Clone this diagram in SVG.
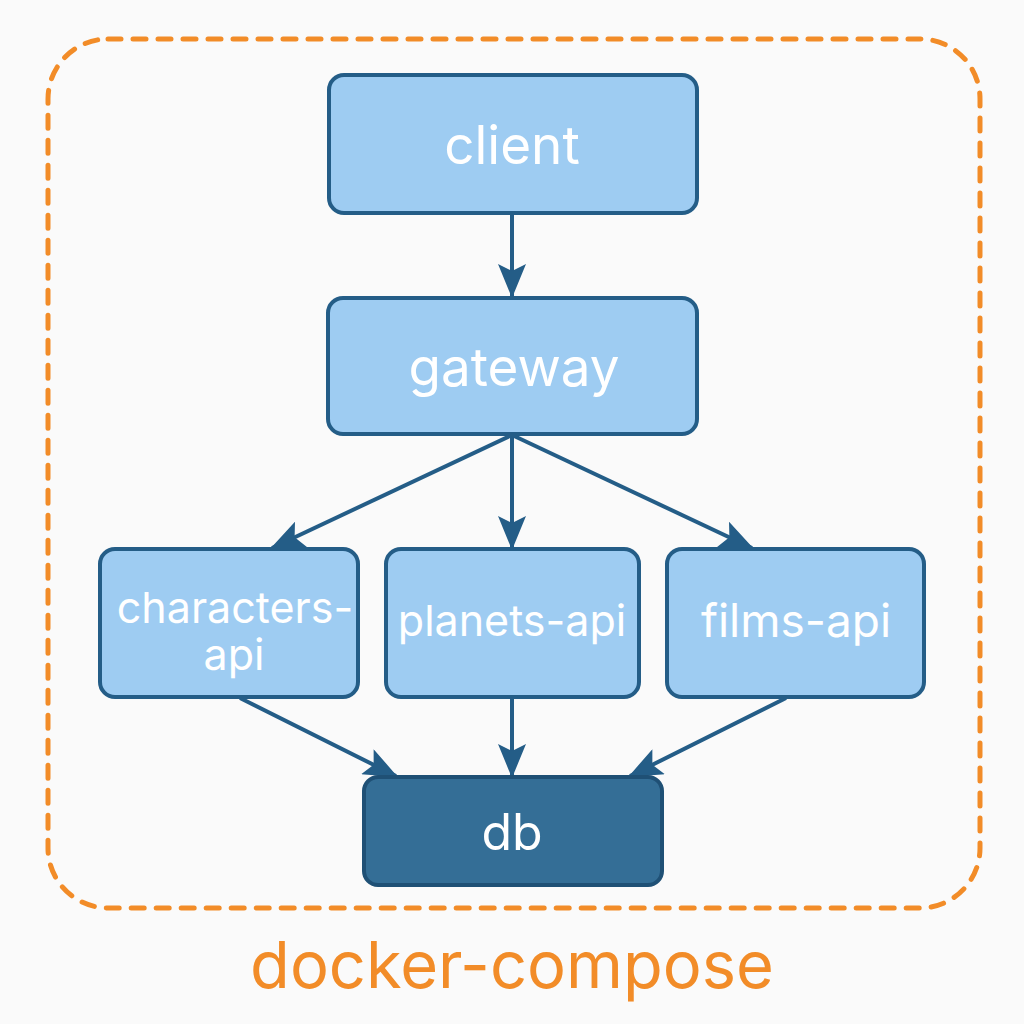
<svg xmlns="http://www.w3.org/2000/svg" width="1024" height="1024" viewBox="0 0 1024 1024">
<defs>
<style>
.node{fill:#9ECCF2;stroke:#245D87;stroke-width:4}
.dbn{fill:#346E96;stroke:#1F5075;stroke-width:4}
.lbl{font-family:Inter,"Liberation Sans",sans-serif;fill:#FFFFFF;text-anchor:middle}
.edge{stroke:#245D87;stroke-width:4;fill:none;marker-end:url(#ah)}
</style>
<marker id="ah" viewBox="0 0 34 28" refX="32" refY="14" markerWidth="34" markerHeight="28" markerUnits="userSpaceOnUse" orient="auto">
<path d="M0,0 L34,14 L0,28 L7,14 Z" fill="#245D87"/>
</marker>
</defs>
<rect width="1024" height="1024" fill="#FAFAFA"/>
<rect x="48" y="39" width="932" height="869" rx="60" fill="none" stroke="#F28C28" stroke-width="5" stroke-dasharray="13 12" stroke-linecap="round"/>
<g id="connectors">
<line class="edge" x1="512" y1="214" x2="512" y2="296"/>
<line class="edge" x1="512" y1="435" x2="272" y2="548"/>
<line class="edge" x1="512" y1="435" x2="512" y2="548"/>
<line class="edge" x1="512" y1="435" x2="752" y2="548"/>
<line class="edge" x1="240" y1="698" x2="396" y2="776"/>
<line class="edge" x1="512" y1="698" x2="512" y2="776"/>
<line class="edge" x1="786" y1="698" x2="630" y2="776"/>
</g>
<g id="client">
<rect class="node" x="329" y="75" width="368" height="138" rx="15"/>
<text class="lbl" x="512" y="164" font-size="53">client</text>
</g>
<g id="gateway">
<rect class="node" x="328" y="298" width="369" height="136" rx="15"/>
<text class="lbl" x="514" y="386" font-size="53">gateway</text>
</g>
<g id="characters-api">
<rect class="node" x="100" y="549" width="258" height="148" rx="15"/>
<text class="lbl" x="235" y="623" font-size="43">characters-</text>
<text class="lbl" x="234" y="670" font-size="43">api</text>
</g>
<g id="planets-api">
<rect class="node" x="386" y="549" width="253" height="148" rx="15"/>
<text class="lbl" x="512" y="636" font-size="43">planets-api</text>
</g>
<g id="films-api">
<rect class="node" x="667" y="549" width="257" height="148" rx="15"/>
<text class="lbl" x="796" y="637" font-size="46">films-api</text>
</g>
<g id="db">
<rect class="dbn" x="364" y="777" width="298" height="108" rx="14"/>
<text class="lbl" x="512" y="850" font-size="50">db</text>
</g>
<text x="512" y="988" font-family="Inter,'Liberation Sans',sans-serif" font-size="65" fill="#F28C28" text-anchor="middle">docker-compose</text>
</svg>
